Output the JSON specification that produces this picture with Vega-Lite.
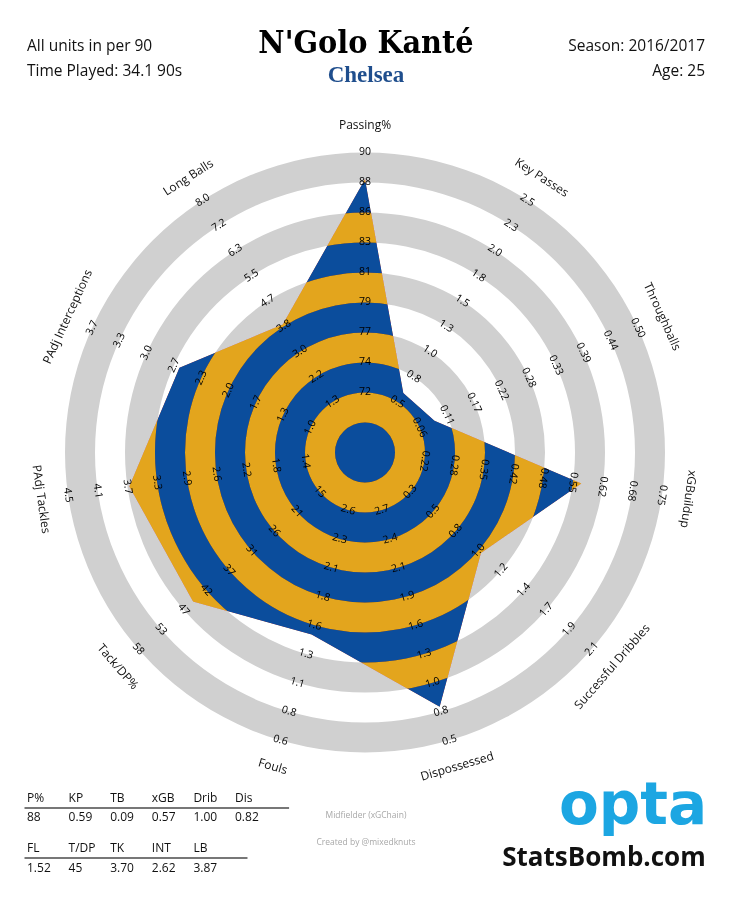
{
  "$schema": "https://vega.github.io/schema/vega-lite/v6.json",
  "width": 730,
  "height": 905,
  "autosize": {"type": "none"},
  "padding": 0,
  "background": "white",
  "config": {"view": {"stroke": null}, "font": "Open Sans"},
  "datasets": {
    "axes": [
      {"axis": "Passing%", "i": 0, "value": 88, "labels": ["72","74","77","79","81","83","86","88","90"]},
      {"axis": "Key Passes", "i": 1, "value": 0.59, "labels": ["0.5","0.8","1.0","1.3","1.5","1.8","2.0","2.3","2.5"]},
      {"axis": "Throughballs", "i": 2, "value": 0.09, "labels": ["0.06","0.11","0.17","0.22","0.28","0.33","0.39","0.44","0.50"]},
      {"axis": "xGBuildup", "i": 3, "value": 0.57, "labels": ["0.22","0.28","0.35","0.42","0.48","0.55","0.62","0.68","0.75"]},
      {"axis": "Successful Dribbles", "i": 4, "value": 1.00, "labels": ["0.3","0.5","0.8","1.0","1.2","1.4","1.7","1.9","2.1"]},
      {"axis": "Dispossessed", "i": 5, "value": 0.82, "labels": ["2.7","2.4","2.1","1.9","1.6","1.3","1.0","0.8","0.5"]},
      {"axis": "Fouls", "i": 6, "value": 1.52, "labels": ["2.6","2.3","2.1","1.8","1.6","1.3","1.1","0.8","0.6"]},
      {"axis": "Tack/DP%", "i": 7, "value": 45, "labels": ["15","21","26","31","37","42","47","53","58"]},
      {"axis": "PAdj Tackles", "i": 8, "value": 3.70, "labels": ["1.4","1.8","2.2","2.6","2.9","3.3","3.7","4.1","4.5"]},
      {"axis": "PAdj Interceptions", "i": 9, "value": 2.62, "labels": ["1.0","1.3","1.7","2.0","2.3","2.7","3.0","3.3","3.7"]},
      {"axis": "Long Balls", "i": 10, "value": 3.87, "labels": ["1.3","2.2","3.0","3.8","4.7","5.5","6.3","7.2","8.0"]}
    ],
    "bands": [
      {"band": 0}, {"band": 1}, {"band": 2}, {"band": 3}, {"band": 4},
      {"band": 5}, {"band": 6}, {"band": 7}, {"band": 8}, {"band": 9}
    ],
    "header": [
      {"text": "All units in per 90", "col": 0, "line": 0},
      {"text": "Time Played: 34.1 90s", "col": 0, "line": 1},
      {"text": "Season: 2016/2017", "col": 2, "line": 0},
      {"text": "Age: 25", "col": 2, "line": 1}
    ],
    "title": [
      {"text": "N'Golo Kanté", "col": 1, "line": 0},
      {"text": "Chelsea", "col": 1, "line": 1}
    ],
    "table": [
      {"table": 0, "col": 0, "stat": "P%", "val": "88"},
      {"table": 0, "col": 1, "stat": "KP", "val": "0.59"},
      {"table": 0, "col": 2, "stat": "TB", "val": "0.09"},
      {"table": 0, "col": 3, "stat": "xGB", "val": "0.57"},
      {"table": 0, "col": 4, "stat": "Drib", "val": "1.00"},
      {"table": 0, "col": 5, "stat": "Dis", "val": "0.82"},
      {"table": 1, "col": 0, "stat": "FL", "val": "1.52"},
      {"table": 1, "col": 1, "stat": "T/DP", "val": "45"},
      {"table": 1, "col": 2, "stat": "TK", "val": "3.70"},
      {"table": 1, "col": 3, "stat": "INT", "val": "2.62"},
      {"table": 1, "col": 4, "stat": "LB", "val": "3.87"}
    ],
    "footer": [
      {"text": "Midfielder (xGChain)", "col": 0, "line": 0},
      {"text": "Created by @mixedknuts", "col": 0, "line": 1},
      {"text": "opta", "col": 1, "line": 0},
      {"text": "StatsBomb.com", "col": 1, "line": 1}
    ]
  },
  "resolve": {"scale": {"x": "independent", "y": "independent"}},
  "layer": [
    {
      "data": {"name": "bands"},
      "transform": [{"filter": "datum.band % 2 == 1"}, {"calculate": "datum.band + 1", "as": "outer"}],
      "mark": {"type": "arc", "theta": 0, "theta2": 6.283185307179586, "color": "#d0d0d0"},
      "encoding": {
        "radius": {"field": "outer", "type": "quantitative", "scale": {"type": "linear", "domain": [0, 10], "range": [0, 300], "zero": true}},
        "radius2": {"field": "band"}
      }
    },
    {
      "data": {"name": "axes"},
      "transform": [
        {"calculate": "toNumber(datum.labels[0])", "as": "lo"},
        {"calculate": "toNumber(datum.labels[8])", "as": "hi"},
        {"calculate": "2 + 8*(datum.value - datum.lo)/(datum.hi - datum.lo)", "as": "ring"},
        {"calculate": "datum.i*2*PI/11", "as": "th"},
        {"calculate": "datum.ring*sin(datum.th)", "as": "px"},
        {"calculate": "datum.ring*cos(datum.th)", "as": "py"}
      ],
      "mark": {"type": "line", "interpolate": "linear-closed", "fill": "#000000", "stroke": "#000000", "strokeWidth": 0},
      "encoding": {
        "x": {"field": "px", "type": "quantitative", "axis": null, "scale": {"domain": [-12.1667, 12.1667], "nice": false, "zero": false}},
        "y": {"field": "py", "type": "quantitative", "axis": null, "scale": {"domain": [-15.0833, 15.0833], "nice": false, "zero": false}},
        "order": {"field": "i", "type": "quantitative"}
      }
    },
    {
      "data": {"name": "bands"},
      "transform": [{"filter": "datum.band % 2 == 0"}, {"calculate": "datum.band + 1", "as": "outer"}],
      "mark": {"type": "arc", "theta": 0, "theta2": 6.283185307179586, "color": "#0a4d9c", "blend": "lighten"},
      "encoding": {
        "radius": {"field": "outer", "type": "quantitative", "scale": {"type": "linear", "domain": [0, 10], "range": [0, 300], "zero": true}},
        "radius2": {"field": "band"}
      }
    },
    {
      "data": {"name": "bands"},
      "transform": [{"filter": "datum.band % 2 == 1"}, {"calculate": "datum.band + 1", "as": "outer"}],
      "mark": {"type": "arc", "theta": 0, "theta2": 6.283185307179586, "color": "#d0a51d", "blend": "lighten"},
      "encoding": {
        "radius": {"field": "outer", "type": "quantitative", "scale": {"type": "linear", "domain": [0, 10], "range": [0, 300], "zero": true}},
        "radius2": {"field": "band"}
      }
    },
    {
      "data": {"name": "axes"},
      "transform": [
        {"calculate": "toNumber(datum.labels[0])", "as": "lo"},
        {"calculate": "toNumber(datum.labels[8])", "as": "hi"},
        {"calculate": "2 + 8*(datum.value - datum.lo)/(datum.hi - datum.lo)", "as": "ring"},
        {"calculate": "datum.i*2*PI/11", "as": "th"},
        {"calculate": "datum.ring*sin(datum.th)", "as": "px"},
        {"calculate": "datum.ring*cos(datum.th)", "as": "py"}
      ],
      "mark": {"type": "line", "interpolate": "linear-closed", "fill": "#150000", "stroke": "#150000", "strokeWidth": 0, "blend": "color-dodge"},
      "encoding": {
        "x": {"field": "px", "type": "quantitative", "axis": null, "scale": {"domain": [-12.1667, 12.1667], "nice": false, "zero": false}},
        "y": {"field": "py", "type": "quantitative", "axis": null, "scale": {"domain": [-15.0833, 15.0833], "nice": false, "zero": false}},
        "order": {"field": "i", "type": "quantitative"}
      }
    },
    {
      "data": {"name": "axes"},
      "transform": [
        {"flatten": ["labels"], "as": ["label"]},
        {"window": [{"op": "row_number", "as": "k"}], "groupby": ["axis"]},
        {"calculate": "datum.i*2*PI/11", "as": "th"},
        {"calculate": "(datum.k + 1)*sin(datum.th)", "as": "px"},
        {"calculate": "(datum.k + 1)*cos(datum.th)", "as": "py"},
        {"calculate": "datum.i <= 3 ? datum.i*360/11 : (datum.i <= 8 ? datum.i*360/11 - 180 : datum.i*360/11 - 360)", "as": "rot"}
      ],
      "mark": {"type": "text", "fontSize": 10.5, "color": "#000000", "align": "center", "baseline": "middle", "font": "Open Sans"},
      "encoding": {
        "x": {"field": "px", "type": "quantitative", "axis": null, "scale": {"domain": [-12.1667, 12.1667], "nice": false, "zero": false}},
        "y": {"field": "py", "type": "quantitative", "axis": null, "scale": {"domain": [-15.0833, 15.0833], "nice": false, "zero": false}},
        "angle": {"field": "rot", "type": "quantitative", "scale": null},
        "text": {"field": "label"}
      }
    },
    {
      "data": {"name": "axes"},
      "transform": [
        {"calculate": "datum.i*2*PI/11", "as": "th"},
        {"calculate": "10.9*sin(datum.th)", "as": "px"},
        {"calculate": "10.9*cos(datum.th)", "as": "py"},
        {"calculate": "datum.i <= 3 ? datum.i*360/11 : (datum.i <= 8 ? datum.i*360/11 - 180 : datum.i*360/11 - 360)", "as": "rot"}
      ],
      "mark": {"type": "text", "fontSize": 12, "color": "#111111", "align": "center", "baseline": "middle", "font": "Open Sans"},
      "encoding": {
        "x": {"field": "px", "type": "quantitative", "axis": null, "scale": {"domain": [-12.1667, 12.1667], "nice": false, "zero": false}},
        "y": {"field": "py", "type": "quantitative", "axis": null, "scale": {"domain": [-15.0833, 15.0833], "nice": false, "zero": false}},
        "angle": {"field": "rot", "type": "quantitative", "scale": null},
        "text": {"field": "axis"}
      }
    },
    {
      "data": {"name": "header"},
      "transform": [{"filter": "datum.col == 0"}],
      "mark": {"type": "text", "fontSize": 15.5, "color": "#111111", "align": "left", "baseline": "middle", "font": "Open Sans"},
      "encoding": {
        "x": {"field": "col", "type": "quantitative", "axis": null, "scale": {"domain": [0, 2], "range": [27, 705], "nice": false, "zero": false}},
        "y": {"field": "line", "type": "quantitative", "axis": null, "scale": {"domain": [0, 1], "range": [46, 71], "nice": false, "zero": false}},
        "text": {"field": "text"}
      }
    },
    {
      "data": {"name": "header"},
      "transform": [{"filter": "datum.col == 2"}],
      "mark": {"type": "text", "fontSize": 15.5, "color": "#111111", "align": "right", "baseline": "middle", "font": "Open Sans"},
      "encoding": {
        "x": {"field": "col", "type": "quantitative", "axis": null, "scale": {"domain": [0, 2], "range": [27, 705], "nice": false, "zero": false}},
        "y": {"field": "line", "type": "quantitative", "axis": null, "scale": {"domain": [0, 1], "range": [46, 71], "nice": false, "zero": false}},
        "text": {"field": "text"}
      }
    },
    {
      "data": {"name": "title"},
      "transform": [{"filter": "datum.line == 0"}],
      "mark": {"type": "text", "fontSize": 32, "fontWeight": "bold", "color": "#000000", "align": "center", "baseline": "middle", "font": "DejaVu Serif Condensed"},
      "encoding": {
        "x": {"field": "col", "type": "quantitative", "axis": null, "scale": {"domain": [0, 2], "range": [27, 705], "nice": false, "zero": false}},
        "y": {"field": "line", "type": "quantitative", "axis": null, "scale": {"domain": [0, 1], "range": [43, 75], "nice": false, "zero": false}},
        "text": {"field": "text"}
      }
    },
    {
      "data": {"name": "title"},
      "transform": [{"filter": "datum.line == 1"}],
      "mark": {"type": "text", "fontSize": 23, "fontWeight": "bold", "color": "#1f4e8d", "align": "center", "baseline": "middle", "font": "Liberation Serif"},
      "encoding": {
        "x": {"field": "col", "type": "quantitative", "axis": null, "scale": {"domain": [0, 2], "range": [27, 705], "nice": false, "zero": false}},
        "y": {"field": "line", "type": "quantitative", "axis": null, "scale": {"domain": [0, 1], "range": [43, 75], "nice": false, "zero": false}},
        "text": {"field": "text"}
      }
    },
    {
      "data": {"name": "table"},
      "transform": [{"calculate": "2*datum.table", "as": "line"}],
      "mark": {"type": "text", "fontSize": 12, "color": "#111111", "align": "left", "baseline": "middle", "font": "Open Sans"},
      "encoding": {
        "x": {"field": "col", "type": "quantitative", "axis": null, "scale": {"domain": [0, 5], "range": [27, 235], "nice": false, "zero": false}},
        "y": {"field": "line", "type": "quantitative", "axis": null, "scale": {"domain": [0, 0.5, 1, 2, 2.5, 3], "range": [798, 808, 817, 848, 858, 868], "nice": false, "zero": false}},
        "text": {"field": "stat"}
      }
    },
    {
      "data": {"name": "table"},
      "transform": [{"calculate": "2*datum.table + 1", "as": "line"}],
      "mark": {"type": "text", "fontSize": 12, "color": "#111111", "align": "left", "baseline": "middle", "font": "Open Sans"},
      "encoding": {
        "x": {"field": "col", "type": "quantitative", "axis": null, "scale": {"domain": [0, 5], "range": [27, 235], "nice": false, "zero": false}},
        "y": {"field": "line", "type": "quantitative", "axis": null, "scale": {"domain": [0, 0.5, 1, 2, 2.5, 3], "range": [798, 808, 817, 848, 858, 868], "nice": false, "zero": false}},
        "text": {"field": "val"}
      }
    },
    {
      "data": {"name": "table"},
      "transform": [
        {"aggregate": [{"op": "min", "field": "col", "as": "c0"}, {"op": "max", "field": "col", "as": "c1"}], "groupby": ["table"]},
        {"calculate": "datum.c0 - 0.06", "as": "xa"},
        {"calculate": "datum.c1 + 1.3", "as": "xb"},
        {"calculate": "2*datum.table + 0.5", "as": "line"}
      ],
      "mark": {"type": "rule", "color": "#777777", "strokeWidth": 2},
      "encoding": {
        "x": {"field": "xa", "type": "quantitative", "axis": null, "scale": {"domain": [0, 5], "range": [27, 235], "nice": false, "zero": false}},
        "x2": {"field": "xb"},
        "y": {"field": "line", "type": "quantitative", "axis": null, "scale": {"domain": [0, 0.5, 1, 2, 2.5, 3], "range": [798, 808, 817, 848, 858, 868], "nice": false, "zero": false}}
      }
    },
    {
      "data": {"name": "footer"},
      "transform": [{"filter": "datum.col == 0"}],
      "mark": {"type": "text", "fontSize": 8.5, "color": "#a8a8a8", "align": "center", "baseline": "middle", "font": "Open Sans"},
      "encoding": {
        "x": {"field": "col", "type": "quantitative", "axis": null, "scale": {"domain": [0, 1], "range": [366, 633], "nice": false, "zero": false}},
        "y": {"field": "line", "type": "quantitative", "axis": null, "scale": {"domain": [0, 1], "range": [815, 842], "nice": false, "zero": false}},
        "text": {"field": "text"}
      }
    },
    {
      "data": {"name": "footer"},
      "transform": [{"filter": "datum.col == 1 && datum.line == 0"}],
      "mark": {"type": "text", "fontSize": 58, "fontWeight": "bold", "color": "#1ca6e2", "align": "center", "baseline": "middle", "font": "DejaVu Sans"},
      "encoding": {
        "x": {"field": "col", "type": "quantitative", "axis": null, "scale": {"domain": [0, 1], "range": [366, 633], "nice": false, "zero": false}},
        "y": {"field": "line", "type": "quantitative", "axis": null, "scale": {"domain": [0, 1], "range": [807, 858], "nice": false, "zero": false}},
        "text": {"field": "text"}
      }
    },
    {
      "data": {"name": "footer"},
      "transform": [{"filter": "datum.col == 1 && datum.line == 1"}],
      "mark": {"type": "text", "fontSize": 26, "fontWeight": "bold", "color": "#111111", "align": "center", "baseline": "middle", "font": "Open Sans"},
      "encoding": {
        "x": {"field": "col", "type": "quantitative", "axis": null, "scale": {"domain": [0, 1], "range": [366, 604], "nice": false, "zero": false}},
        "y": {"field": "line", "type": "quantitative", "axis": null, "scale": {"domain": [0, 1], "range": [807, 858], "nice": false, "zero": false}},
        "text": {"field": "text"}
      }
    }
  ]
}
